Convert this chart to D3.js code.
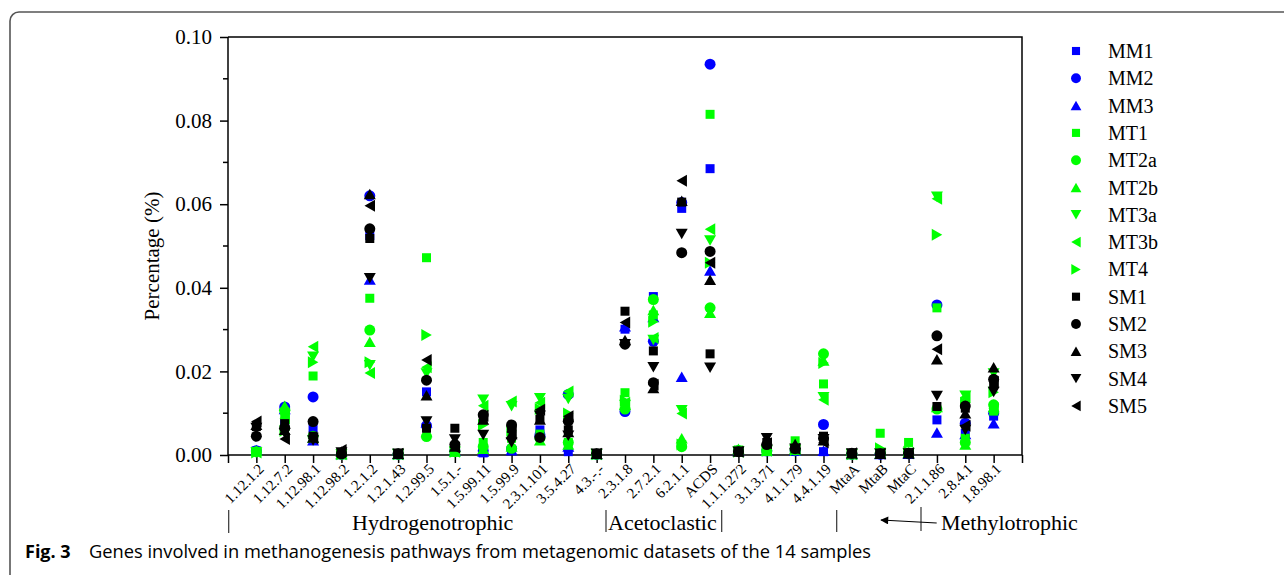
<!DOCTYPE html>
<html>
<head>
<meta charset="utf-8">
<script src="https://cdn.jsdelivr.net/npm/d3@7"></script>
<style>
  html, body { margin: 0; padding: 0; background: #fff; }
  svg { display: block; }
  .serif { font-family: "Liberation Serif", "Times New Roman", serif; }
  .caption { font-family: "Open Sans", "Noto Sans", sans-serif; }
</style>
</head>
<body>
<svg id="chart" width="1284" height="575"></svg>
<script>
'use strict';

const categories = ['1.12.1.2', '1.12.7.2', '1.12.98.1', '1.12.98.2', '1.2.1.2', '1.2.1.43',
  '1.2.99.5', '1.5.1.-', '1.5.99.11', '1.5.99.9', '2.3.1.101', '3.5.4.27', '4.3.-.-',
  '2.3.1.8', '2.7.2.1', '6.2.1.1', 'ACDS', '1.1.1.272', '3.1.3.71', '4.1.1.79', '4.4.1.19',
  'MtaA', 'MtaB', 'MtaC', '2.1.1.86', '2.8.4.1', '1.8.98.1'];

const MM1 = [0.0010, 0.0075, 0.0065, 0.0002, 0.0525, 0.0002, 0.0151, 0.0010, 0.0005, 0.0010, 0.0060, 0.0008, 0.0002,
  0.0301, 0.0379, 0.0590, 0.0685, 0.0008, 0.0008, 0.0010, 0.0008, 0.0002, 0.0002, 0.0003, 0.0084, 0.0052, 0.0093];
const MM2 = [0.0010, 0.0115, 0.0139, 0.0002, 0.0620, 0.0002, 0.0070, 0.0010, 0.0010, 0.0015, 0.0048, 0.0145, 0.0002,
  0.0104, 0.0272, 0.0604, 0.0935, 0.0010, 0.0010, 0.0010, 0.0073, 0.0002, 0.0002, 0.0003, 0.0359, 0.0076, 0.0100];
const MM3 = [0.0012, 0.0110, 0.0035, 0.0002, 0.0420, 0.0002, 0.0078, 0.0010, 0.0008, 0.0012, 0.0055, 0.0020, 0.0002,
  0.0308, 0.0330, 0.0187, 0.0441, 0.0010, 0.0010, 0.0010, 0.0010, 0.0002, 0.0002, 0.0003, 0.0054, 0.0050, 0.0076];
const MT1 = [0.0008, 0.0095, 0.0189, 0.0002, 0.0375, 0.0002, 0.0472, 0.0008, 0.0030, 0.0040, 0.0050, 0.0030, 0.0002,
  0.0149, 0.0335, 0.0025, 0.0815, 0.0012, 0.0010, 0.0034, 0.0170, 0.0002, 0.0052, 0.0030, 0.0352, 0.0040, 0.0105];
const MT2a = [0.0008, 0.0105, 0.0045, 0.0002, 0.0299, 0.0002, 0.0044, 0.0008, 0.0020, 0.0016, 0.0040, 0.0030, 0.0002,
  0.0110, 0.0372, 0.0020, 0.0352, 0.0010, 0.0010, 0.0012, 0.0242, 0.0002, 0.0004, 0.0005, 0.0110, 0.0030, 0.0120];
const MT2b = [0.0010, 0.0118, 0.0042, 0.0002, 0.0271, 0.0002, 0.0055, 0.0008, 0.0015, 0.0020, 0.0035, 0.0025, 0.0002,
  0.0120, 0.0347, 0.0040, 0.0340, 0.0015, 0.0010, 0.0015, 0.0226, 0.0002, 0.0004, 0.0006, 0.0115, 0.0025, 0.0115];
const MT3a = [0.0006, 0.0098, 0.0235, 0.0002, 0.0215, 0.0002, 0.0195, 0.0008, 0.0132, 0.0117, 0.0136, 0.0134, 0.0002,
  0.0120, 0.0275, 0.0107, 0.0513, 0.0008, 0.0010, 0.0012, 0.0138, 0.0002, 0.0004, 0.0005, 0.0618, 0.0142, 0.0195];
const MT3b = [0.0006, 0.0088, 0.0259, 0.0002, 0.0196, 0.0002, 0.0210, 0.0008, 0.0118, 0.0128, 0.0125, 0.0152, 0.0002,
  0.0125, 0.0280, 0.0099, 0.0540, 0.0008, 0.0010, 0.0012, 0.0132, 0.0002, 0.0004, 0.0005, 0.0613, 0.0138, 0.0112];
const MT4 = [0.0006, 0.0058, 0.0222, 0.0002, 0.0222, 0.0002, 0.0287, 0.0008, 0.0072, 0.0058, 0.0110, 0.0099, 0.0002,
  0.0130, 0.0319, 0.0025, 0.0460, 0.0008, 0.0010, 0.0012, 0.0220, 0.0002, 0.0016, 0.0008, 0.0527, 0.0125, 0.0150];
const SM1 = [0.0068, 0.0075, 0.0045, 0.0003, 0.0518, 0.0003, 0.0064, 0.0064, 0.0088, 0.0064, 0.0085, 0.0060, 0.0003,
  0.0344, 0.0249, 0.0605, 0.0242, 0.0008, 0.0030, 0.0015, 0.0045, 0.0004, 0.0003, 0.0004, 0.0116, 0.0112, 0.0172];
const SM2 = [0.0045, 0.0065, 0.0080, 0.0003, 0.0541, 0.0003, 0.0179, 0.0025, 0.0096, 0.0072, 0.0042, 0.0081, 0.0003,
  0.0265, 0.0173, 0.0484, 0.0487, 0.0008, 0.0025, 0.0015, 0.0040, 0.0004, 0.0003, 0.0004, 0.0285, 0.0117, 0.0181];
const SM3 = [0.0072, 0.0060, 0.0042, 0.0008, 0.0624, 0.0003, 0.0143, 0.0020, 0.0085, 0.0050, 0.0085, 0.0055, 0.0003,
  0.0275, 0.0160, 0.0608, 0.0419, 0.0008, 0.0035, 0.0026, 0.0035, 0.0004, 0.0003, 0.0004, 0.0229, 0.0100, 0.0210];
const SM4 = [0.0065, 0.0052, 0.0035, 0.0006, 0.0423, 0.0003, 0.0080, 0.0037, 0.0048, 0.0030, 0.0094, 0.0046, 0.0003,
  0.0265, 0.0210, 0.0529, 0.0209, 0.0008, 0.0040, 0.0015, 0.0038, 0.0004, 0.0003, 0.0004, 0.0141, 0.0060, 0.0151];
const SM5 = [0.0080, 0.0038, 0.0040, 0.0012, 0.0596, 0.0003, 0.0227, 0.0018, 0.0094, 0.0055, 0.0108, 0.0093, 0.0003,
  0.0317, 0.0168, 0.0656, 0.0460, 0.0008, 0.0028, 0.0015, 0.0030, 0.0004, 0.0003, 0.0004, 0.0253, 0.0070, 0.0175];

const seriesNames = ['MM1', 'MM2', 'MM3', 'MT1', 'MT2a', 'MT2b', 'MT3a', 'MT3b', 'MT4', 'SM1', 'SM2', 'SM3', 'SM4', 'SM5'];
const seriesValues = [MM1, MM2, MM3, MT1, MT2a, MT2b, MT3a, MT3b, MT4, SM1, SM2, SM3, SM4, SM5];
const seriesColors = ['#0000ff', '#0000ff', '#0000ff', '#00ff00', '#00ff00', '#00ff00', '#00ff00', '#00ff00', '#00ff00',
  '#000000', '#000000', '#000000', '#000000', '#000000'];
const seriesShapes = ['square', 'circle', 'up', 'square', 'circle', 'up', 'down', 'left', 'right',
  'square', 'circle', 'up', 'down', 'left'];

const yTicks = [0, 0.02, 0.04, 0.06, 0.08, 0.10];

// pathway groups below the axis: label and where it starts
const groups = [
  {name: 'Hydrogenotrophic', x: 352},
  {name: 'Acetoclastic', x: 608},
  {name: 'Methylotrophic', x: 941}
];

const svg = d3.select('#chart');
const margin = {left: 228, right: 1022, top: 37, bottom: 455};

const x = d3.scaleLinear().domain([0, categories.length + 1]).range([margin.left, margin.right]);
const y = d3.scaleLinear().domain([0, 0.1]).range([margin.bottom, margin.top]);

// marker outlines, centred on the point
function shapePath(shape) {
  switch (shape) {
    case 'square': return 'M-4.5,-4.5H4.5V4.5H-4.5Z';
    case 'circle': return 'M5.5,0A5.5,5.5 0 1,1 -5.5,0A5.5,5.5 0 1,1 5.5,0Z';
    case 'up': return 'M0,-5.3L6,5.2L-6,5.2Z';
    case 'down': return 'M0,5.3L6,-5.2L-6,-5.2Z';
    case 'left': return 'M-5.3,0L5.2,-6L5.2,6Z';
    case 'right': return 'M5.3,0L-5.2,-6L-5.2,6Z';
  }
}

// outer figure frame
svg.append('path')
  .attr('d', 'M1290,12H19A9,9 0 0 0 10,21V585')
  .attr('fill', 'none')
  .attr('stroke', '#555')
  .attr('stroke-width', 1.6);

// frame around the plot
svg.append('path')
  .attr('d', `M${margin.left},${margin.top}H${margin.right}V${margin.bottom}`)
  .attr('fill', 'none')
  .attr('stroke', '#000')
  .attr('stroke-width', 1.5);

const yAxis = svg.append('g')
  .attr('class', 'serif')
  .attr('transform', `translate(${margin.left},0)`)
  .call(d3.axisLeft(y).tickValues(yTicks).tickFormat(d3.format('.2f')).tickSize(8).tickPadding(8));
yAxis.selectAll('text').attr('font-size', 21).attr('fill', '#000');
yAxis.selectAll('line, path').attr('stroke', '#000').attr('stroke-width', 1.5);
yAxis.select('.domain').attr('d', `M0,${margin.bottom}V${margin.top}`);

svg.append('g')
  .attr('transform', `translate(${margin.left},0)`)
  .selectAll('line')
  .data([0.01, 0.03, 0.05, 0.07, 0.09])
  .join('line')
  .attr('x1', -5).attr('x2', 0)
  .attr('y1', d => y(d)).attr('y2', d => y(d))
  .attr('stroke', '#000').attr('stroke-width', 1.5);

const xAxis = svg.append('g')
  .attr('class', 'serif')
  .attr('transform', `translate(0,${margin.bottom})`)
  .call(d3.axisBottom(x)
    .tickValues(d3.range(0, categories.length + 2))
    .tickFormat(i => categories[i - 1] || '')
    .tickSize(8));
xAxis.selectAll('line, path').attr('stroke', '#000').attr('stroke-width', 1.5);
xAxis.select('.domain').attr('d', `M${margin.left},0H${margin.right}`);
xAxis.selectAll('text')
  .attr('font-size', 15)
  .attr('fill', '#000')
  .attr('text-anchor', 'end')
  .attr('y', 0).attr('dy', 0)
  .attr('transform', 'translate(8,15) rotate(-45)');

svg.append('text')
  .attr('class', 'serif')
  .attr('transform', 'translate(159,256) rotate(-90)')
  .attr('text-anchor', 'middle')
  .attr('font-size', 21)
  .text('Percentage (%)');

// points, one group per sample
const plot = svg.append('g');
seriesNames.forEach((name, s) => {
  plot.append('g')
    .selectAll('path')
    .data(seriesValues[s])
    .join('path')
    .attr('d', shapePath(seriesShapes[s]))
    .attr('transform', (d, i) => `translate(${x(i + 1)},${y(d)})`)
    .attr('fill', seriesColors[s]);
});

// legend
const legend = svg.append('g').attr('transform', 'translate(1076,51)');
seriesNames.forEach((name, s) => {
  const row = legend.append('g').attr('transform', `translate(0,${s * 27.3})`);
  row.append('path').attr('d', shapePath(seriesShapes[s])).attr('fill', seriesColors[s])
    .attr('transform', 'scale(0.9)');
  row.append('text')
    .attr('class', 'serif')
    .attr('x', 32).attr('dy', '0.35em')
    .attr('font-size', 20)
    .text(name);
});

// pathway group labels and separators
groups.forEach(g => {
  svg.append('text')
    .attr('class', 'serif')
    .attr('x', g.x).attr('y', 530)
    .attr('font-size', 22)
    .text(g.name);
});
const bars = [[228.7, 510, 533], [606, 510, 532], [721.7, 510, 532], [836.7, 510, 532], [921, 507, 531]];
svg.append('g').selectAll('line')
  .data(bars)
  .join('line')
  .attr('x1', d => d[0]).attr('x2', d => d[0])
  .attr('y1', d => d[1]).attr('y2', d => d[2])
  .attr('stroke', '#333').attr('stroke-width', 1.2);

svg.append('defs').append('marker')
  .attr('id', 'arrow')
  .attr('viewBox', '0 0 10 10')
  .attr('refX', 9).attr('refY', 5)
  .attr('markerWidth', 12).attr('markerHeight', 8)
  .attr('markerUnits', 'userSpaceOnUse')
  .attr('orient', 'auto')
  .append('path').attr('d', 'M0,0L10,5L0,10Z').attr('fill', '#000');
svg.append('line')
  .attr('x1', 936.7).attr('y1', 523)
  .attr('x2', 881).attr('y2', 520)
  .attr('stroke', '#000').attr('stroke-width', 1.2)
  .attr('marker-end', 'url(#arrow)');

// caption
svg.append('text')
  .attr('class', 'caption')
  .attr('x', 25).attr('y', 558)
  .attr('font-size', 18)
  .attr('font-weight', 'bold')
  .text('Fig. 3');
svg.append('text')
  .attr('class', 'caption')
  .attr('x', 89).attr('y', 558)
  .attr('font-size', 18)
  .attr('textLength', 782)
  .attr('lengthAdjust', 'spacingAndGlyphs')
  .text('Genes involved in methanogenesis pathways from metagenomic datasets of the 14 samples');
</script>
</body>
</html>
